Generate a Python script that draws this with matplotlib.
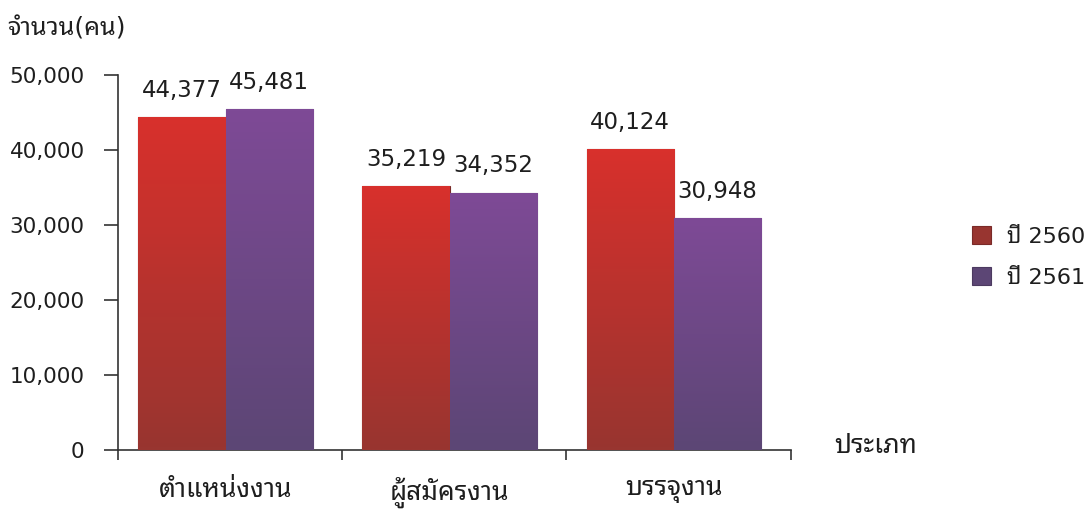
import numpy as np
import matplotlib
matplotlib.use('Agg')
import matplotlib.pyplot as plt
import matplotlib.colors as mcolors

plt.rcParams['font.family'] = ['DejaVu Sans', 'Noto Sans Thai Looped', 'Noto Sans Thai', 'Sarabun']

# data
categories = ['ตำแหน่งงาน', 'ผู้สมัครงาน', 'บรรจุงาน']
series = ['ปี 2560', 'ปี 2561']
v2560 = [44377, 35219, 40124]
v2561 = [45481, 34352, 30948]

# colours (top, bottom, edge) for a simple vertical shading
shades = [('#d8302c', '#983530', '#7a2a28'), ('#7e4a96', '#5c4675', '#4c3a60')]
txt = '#1e1e1e'

fig = plt.figure(figsize=(10.92, 5.11), dpi=100)
ax = fig.add_axes([0.108, 0.119, 0.616, 0.734])

x = np.arange(len(categories))
w = 0.39
allbars = []
for i, vals in enumerate([v2560, v2561]):
    bars = ax.bar(x + (i - 0.5) * w - 0.02, vals, w, color=shades[i][1],
                  edgecolor=shades[i][2], linewidth=0.8, label=series[i], zorder=2)
    allbars.append(bars)
    cmap = mcolors.LinearSegmentedColormap.from_list('g%d' % i, [shades[i][1], shades[i][0]])
    for b, v in zip(bars, vals):
        bx, by = b.get_x(), b.get_y()
        bw, bh = b.get_width(), b.get_height()
        grad = np.linspace(0, 1, 100).reshape(-1, 1)
        im = ax.imshow(grad, extent=[bx, bx + bw, by, by + bh], origin='lower',
                       cmap=cmap, aspect='auto', zorder=3)
        im.set_clip_path(b)
        ax.annotate('{:,}'.format(v), (bx + bw / 2, v), xytext=(0, 11),
                    textcoords='offset points', ha='center', va='bottom',
                    fontsize=16.5, color=txt)

ax.set_xlim(-0.5, 2.5)
ax.set_ylim(0, 50000)
ax.set_yticks(np.arange(0, 50001, 10000))
ax.set_yticklabels(['{:,}'.format(t) for t in range(0, 50001, 10000)], fontsize=15.5, color=txt)
ax.set_xticks(x - 0.02)
ax.set_xticklabels(categories, fontsize=19, color=txt)
ax.set_xticks([-0.5, 0.5, 1.5, 2.5], minor=True)
ax.tick_params(axis='x', which='major', length=0, pad=19)
ax.tick_params(axis='x', which='minor', length=7, width=1.2, color='#333333', direction='out')
ax.tick_params(axis='y', length=10, width=1.2, color='#333333', pad=14)
for s in ['top', 'right']:
    ax.spines[s].set_visible(False)
for s in ['left', 'bottom']:
    ax.spines[s].set_color('#333333')
    ax.spines[s].set_linewidth(1.2)

fig.text(0.007, 0.945, 'จำนวน(คน)', fontsize=18, color=txt, va='center')
fig.text(0.764, 0.128, 'ประเภท', fontsize=19, color=txt, va='center')

leg = fig.legend(handles=[allbars[0][0], allbars[1][0]], labels=series,
                 loc='center left', bbox_to_anchor=(0.872, 0.497), frameon=False,
                 fontsize=16, handlelength=0.85, handleheight=0.85, labelspacing=0.9,
                 handletextpad=0.7)
for t in leg.get_texts():
    t.set_color(txt)
for h, c in zip(leg.legend_handles, shades):
    h.set_facecolor(c[1])

fig.savefig('out.png')
